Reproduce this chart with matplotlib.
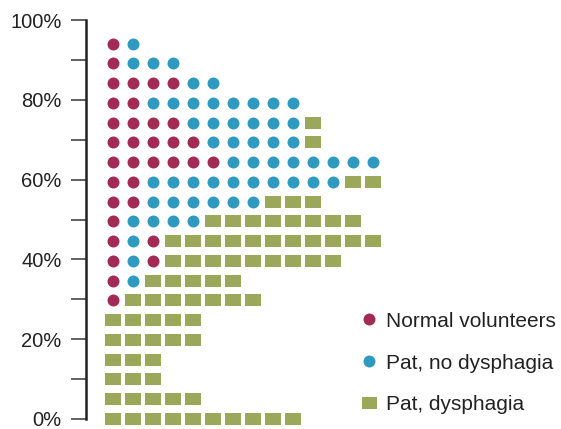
import matplotlib

matplotlib.use("Agg")

import matplotlib.pyplot as plt
from matplotlib.lines import Line2D

plt.rcParams["font.family"] = ["Liberation Sans", "DejaVu Sans"]

# one row of markers per level, read left to right
# N = normal volunteers, P = patients without dysphagia, D = patients with dysphagia
row_levels = [0, 4.9, 9.9, 14.8, 19.8, 24.8, 29.7, 34.6, 39.6, 44.5,
              49.5, 54.4, 59.4, 64.3, 69.3, 74.2, 79.2, 84.1, 89.1, 94.0]
row_patterns = [
    "DDDDDDDDDD",
    "DDDDD",
    "DDD",
    "DDD",
    "DDDDD",
    "DDDDD",
    "NDDDDDDD",
    "NPDDDDD",
    "NPNDDDDDDDDD",
    "NPNDDDDDDDDDDD",
    "NPPPPDDDDDDDD",
    "NNPPPPPPDDD",
    "NNPPPPPPPPPPDD",
    "NNNNNNPPPPPPPP",
    "NNNNNPPPPPD",
    "NNNNPPPPPPD",
    "NNPPPPPPPP",
    "NNNNPP",
    "NPPP",
    "NP",
]

group_keys = ["N", "P", "D"]
group_labels = ["Normal volunteers", "Pat, no dysphagia", "Pat, dysphagia"]
group_colors = ["#A32A52", "#2F9ABF", "#9BA85B"]

y_ticks = [0, 10, 20, 30, 40, 50, 60, 70, 80, 90, 100]
y_tick_labels = ["0%", "", "20%", "", "40%", "", "60%", "", "80%", "", "100%"]

# rectangle marker for the dysphagia group (15 x 11 px)
rect_marker = [(-0.5, -0.367), (0.5, -0.367), (0.5, 0.367), (-0.5, 0.367)]
marker_style = {"N": ("o", 74), "P": ("o", 74), "D": (rect_marker, 117)}

fig = plt.figure(figsize=(5.61, 4.29), dpi=100)
ax = fig.add_axes([86 / 561, 10 / 429, 475 / 561, 399 / 429])

for key, color in zip(group_keys, group_colors):
    xs, ys = [], []
    for level, pattern in zip(row_levels, row_patterns):
        for col, ch in enumerate(pattern):
            if ch == key:
                xs.append(col)
                ys.append(level)
    marker, size = marker_style[key]
    ax.scatter(xs, ys, s=size, marker=marker, color=color, linewidths=0, clip_on=False)

ax.set_xlim(-1.35, -1.35 + 475 / 20)
ax.set_ylim(0, 100)
ax.set_yticks(y_ticks)
ax.set_yticklabels(y_tick_labels, fontsize=14.5, color="#222222")
ax.tick_params(axis="y", length=10.5, width=1.3, pad=7, color="#555555")
ax.set_xticks([])
for side in ["top", "right", "bottom"]:
    ax.spines[side].set_visible(False)
ax.spines["left"].set_linewidth(1.8)
ax.spines["left"].set_color("#222222")

handles = [
    Line2D([], [], linestyle="none", marker="o", markersize=8.6,
           markerfacecolor=group_colors[0], markeredgewidth=0),
    Line2D([], [], linestyle="none", marker="o", markersize=8.6,
           markerfacecolor=group_colors[1], markeredgewidth=0),
    Line2D([], [], linestyle="none", marker=rect_marker, markersize=10.8,
           markerfacecolor=group_colors[2], markeredgewidth=0),
]
ax.legend(handles, group_labels, loc="upper left", bbox_to_anchor=(0.556, 0.29),
          frameon=False, fontsize=15, handlelength=1.0, handletextpad=0.3,
          labelspacing=1.1, borderaxespad=0, labelcolor="#222222")

fig.savefig("out.png", dpi=100)
